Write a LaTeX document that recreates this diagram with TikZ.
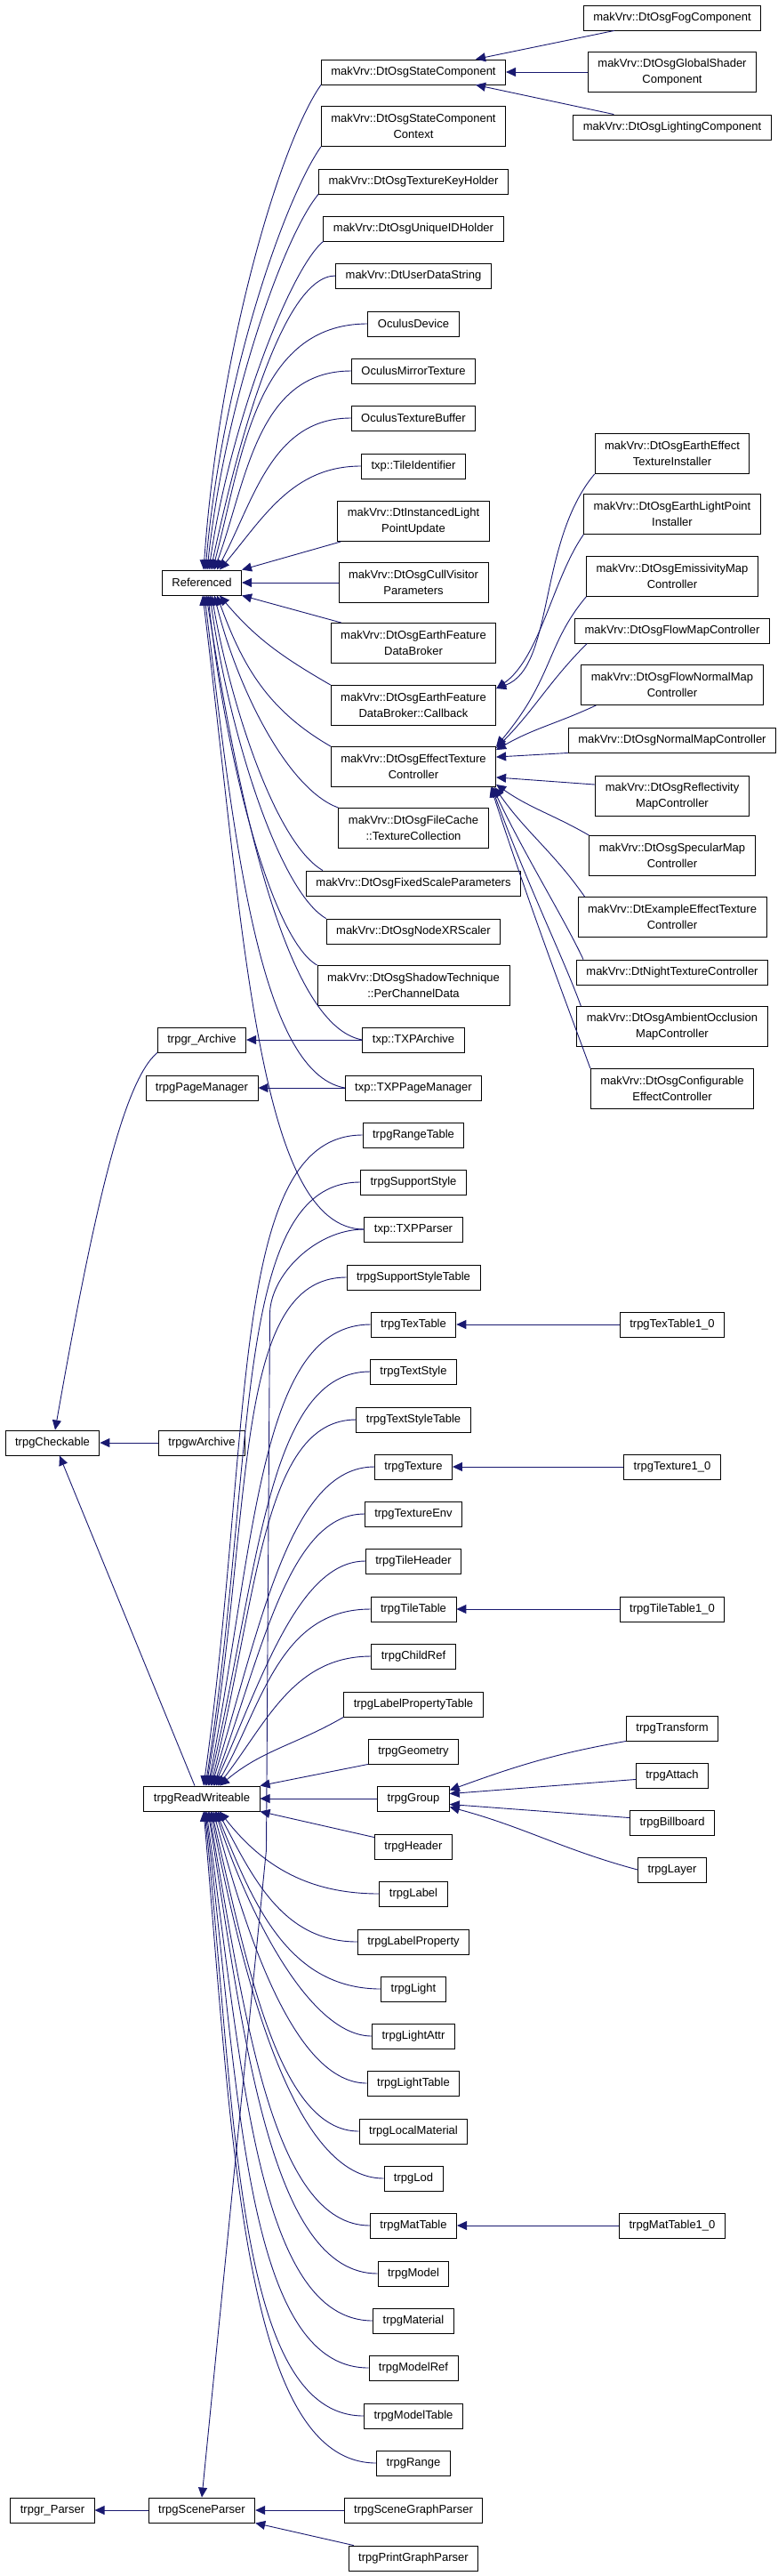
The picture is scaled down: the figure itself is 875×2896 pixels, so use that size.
\documentclass[tikz,border=0pt]{standalone}
\usepackage{fontspec}
\setmainfont{Liberation Sans}
\usetikzlibrary{arrows.meta}
\definecolor{midnight}{RGB}{25,25,112}

\begin{document}
\begin{tikzpicture}[x=1pt, y=1pt]
        \tikzstyle{every node}=[font=\fontsize{13}{17.5}\selectfont]
        \tikzstyle{cls}=[draw=black, line width=0.9pt, fill=white, inner xsep=11pt, inner ysep=3pt, minimum height=28pt]
        \tikzstyle{cls2}=[cls, align=center, minimum height=45pt]
        \tikzstyle{inh}=[draw=midnight, line width=0.9pt, -{Triangle[length=11pt,width=10pt]}]
        \useasboundingbox (0,0) rectangle (875,-2896);
        \node[cls] (fog) at (756,-20) {makVrv::DtOsgFogComponent};
        \node[cls2] (shader) at (756,-81) {makVrv::DtOsgGlobalShader\\Component};
        \node[cls] (lighting) at (756,-143) {makVrv::DtOsgLightingComponent};
        \node[cls] (statecomp) at (465,-81) {makVrv::DtOsgStateComponent};
        \node[cls2] (statectx) at (465,-142) {makVrv::DtOsgStateComponent\\Context};
        \node[cls] (keyholder) at (465,-204) {makVrv::DtOsgTextureKeyHolder};
        \node[cls] (uniqueid) at (465,-257) {makVrv::DtOsgUniqueIDHolder};
        \node[cls] (userdata) at (465,-310) {makVrv::DtUserDataString};
        \node[cls] (oculusdev) at (465,-364) {OculusDevice};
        \node[cls] (mirrortex) at (465,-417) {OculusMirrorTexture};
        \node[cls] (texbuffer) at (465,-470) {OculusTextureBuffer};
        \node[cls] (tileid) at (465,-524) {txp::TileIdentifier};
        \node[cls2] (instanced) at (465,-586) {makVrv::DtInstancedLight\\PointUpdate};
        \node[cls] (ref) at (227,-655) {Referenced};
        \node[cls2] (cullvis) at (465,-655) {makVrv::DtOsgCullVisitor\\Parameters};
        \node[cls2] (broker) at (465,-723) {makVrv::DtOsgEarthFeature\\DataBroker};
        \node[cls2] (callback) at (465,-793) {makVrv::DtOsgEarthFeature\\DataBroker::Callback};
        \node[cls2] (effecttex) at (465,-862) {makVrv::DtOsgEffectTexture\\Controller};
        \node[cls2] (filecache) at (465,-931) {makVrv::DtOsgFileCache\\::TextureCollection};
        \node[cls] (fixedscale) at (465,-993) {makVrv::DtOsgFixedScaleParameters};
        \node[cls] (xrscaler) at (465,-1047) {makVrv::DtOsgNodeXRScaler};
        \node[cls2] (shadow) at (465,-1108) {makVrv::DtOsgShadowTechnique\\::PerChannelData};
        \node[cls2] (texinstaller) at (756,-510) {makVrv::DtOsgEarthEffect\\TextureInstaller};
        \node[cls2] (lpinstaller) at (756,-578) {makVrv::DtOsgEarthLightPoint\\Installer};
        \node[cls2] (emissive) at (756,-648) {makVrv::DtOsgEmissivityMap\\Controller};
        \node[cls] (flowmap) at (756,-709) {makVrv::DtOsgFlowMapController};
        \node[cls2] (flownormal) at (756,-770) {makVrv::DtOsgFlowNormalMap\\Controller};
        \node[cls] (normalmap) at (756,-832) {makVrv::DtOsgNormalMapController};
        \node[cls2] (reflect) at (756,-895) {makVrv::DtOsgReflectivity\\MapController};
        \node[cls2] (specular) at (756,-962) {makVrv::DtOsgSpecularMap\\Controller};
        \node[cls2] (example) at (756,-1031) {makVrv::DtExampleEffectTexture\\Controller};
        \node[cls] (night) at (756,-1093) {makVrv::DtNightTextureController};
        \node[cls2] (ambient) at (756,-1154) {makVrv::DtOsgAmbientOcclusion\\MapController};
        \node[cls2] (configurable) at (756,-1224) {makVrv::DtOsgConfigurable\\EffectController};
        \node[cls] (rarchive) at (227,-1169) {trpgr\_Archive};
        \node[cls] (txparchive) at (465,-1169) {txp::TXPArchive};
        \node[cls] (pagemgr) at (227,-1223) {trpgPageManager};
        \node[cls] (txppagemgr) at (465,-1223) {txp::TXPPageManager};
        \node[cls] (rangetable) at (465,-1276) {trpgRangeTable};
        \node[cls] (supportstyle) at (465,-1329) {trpgSupportStyle};
        \node[cls] (txpparser) at (465,-1382) {txp::TXPParser};
        \node[cls] (supportstyletable) at (465,-1436) {trpgSupportStyleTable};
        \node[cls] (textable) at (465,-1489) {trpgTexTable};
        \node[cls] (textable10) at (756,-1489) {trpgTexTable1\_0};
        \node[cls] (textstyle) at (465,-1542) {trpgTextStyle};
        \node[cls] (textstyletable) at (465,-1596) {trpgTextStyleTable};
        \node[cls] (checkable) at (59,-1622) {trpgCheckable};
        \node[cls] (warchive) at (227,-1622) {trpgwArchive};
        \node[cls] (texture) at (465,-1649) {trpgTexture};
        \node[cls] (texture10) at (756,-1649) {trpgTexture1\_0};
        \node[cls] (textureenv) at (465,-1702) {trpgTextureEnv};
        \node[cls] (tileheader) at (465,-1755) {trpgTileHeader};
        \node[cls] (tiletable) at (465,-1809) {trpgTileTable};
        \node[cls] (tiletable10) at (756,-1809) {trpgTileTable1\_0};
        \node[cls] (childref) at (465,-1862) {trpgChildRef};
        \node[cls] (labelproptable) at (465,-1916) {trpgLabelPropertyTable};
        \node[cls] (transform) at (756,-1943) {trpgTransform};
        \node[cls] (geometry) at (465,-1969) {trpgGeometry};
        \node[cls] (attach) at (756,-1996) {trpgAttach};
        \node[cls] (readwrite) at (227,-2022) {trpgReadWriteable};
        \node[cls] (group) at (465,-2022) {trpgGroup};
        \node[cls] (billboard) at (756,-2049) {trpgBillboard};
        \node[cls] (header) at (465,-2076) {trpgHeader};
        \node[cls] (layer) at (756,-2102) {trpgLayer};
        \node[cls] (label) at (465,-2129) {trpgLabel};
        \node[cls] (labelprop) at (465,-2183) {trpgLabelProperty};
        \node[cls] (light) at (465,-2236) {trpgLight};
        \node[cls] (lightattr) at (465,-2289) {trpgLightAttr};
        \node[cls] (lighttable) at (465,-2342) {trpgLightTable};
        \node[cls] (localmat) at (465,-2396) {trpgLocalMaterial};
        \node[cls] (lod) at (465,-2449) {trpgLod};
        \node[cls] (mattable) at (465,-2502) {trpgMatTable};
        \node[cls] (mattable10) at (756,-2502) {trpgMatTable1\_0};
        \node[cls] (model) at (465,-2556) {trpgModel};
        \node[cls] (material) at (465,-2609) {trpgMaterial};
        \node[cls] (modelref) at (465,-2662) {trpgModelRef};
        \node[cls] (modeltable) at (465,-2716) {trpgModelTable};
        \node[cls] (range) at (465,-2769) {trpgRange};
        \node[cls] (rparser) at (59,-2822) {trpgr\_Parser};
        \node[cls] (sceneparser) at (227,-2822) {trpgSceneParser};
        \node[cls] (scenegraph) at (465,-2822) {trpgSceneGraphParser};
        \node[cls] (printgraph) at (465,-2876) {trpgPrintGraphParser};
        \draw[inh] ([xshift=35pt]fog.south west) -- ([xshift=-34pt]statecomp.north east);
        \draw[inh] (shader.west) -- (statecomp.east);
        \draw[inh] ([xshift=46pt]lighting.north west) -- ([xshift=-34pt]statecomp.south east);
        \draw[inh] (statecomp.south west) to[out=-125,in=86,out distance=80pt,in distance=250pt] ([xshift=2pt]ref.north);
        \draw[inh] (statectx.south west) to[out=-125,in=85,out distance=70pt,in distance=220pt] ([xshift=4pt]ref.north);
        \draw[inh] (keyholder.south west) to[out=-130,in=84,out distance=60pt,in distance=190pt] ([xshift=6pt]ref.north);
        \draw[inh] (uniqueid.south west) to[out=-140,in=82,out distance=50pt,in distance=160pt] ([xshift=8pt]ref.north);
        \draw[inh] (userdata.west) to[out=180,in=78,out distance=60pt,in distance=140pt] ([xshift=10pt]ref.north);
        \draw[inh] (oculusdev.west) to[out=180,in=75] ([xshift=12pt]ref.north);
        \draw[inh] (mirrortex.west) to[out=180,in=70] ([xshift=14pt]ref.north);
        \draw[inh] (texbuffer.west) to[out=180,in=62] ([xshift=17pt]ref.north);
        \draw[inh] (tileid.west) to[out=180,in=50] ([xshift=20pt]ref.north);
        \draw[inh] ([xshift=4pt]instanced.south west) -- (ref.north east);
        \draw[inh] (cullvis.west) -- (ref.east);
        \draw[inh] ([xshift=12pt]broker.north west) -- (ref.south east);
        \draw[inh] (callback.north west) to[out=150,in=-50] ([xshift=20pt]ref.south);
        \draw[inh] (effecttex.north west) to[out=150,in=-70] ([xshift=17pt]ref.south);
        \draw[inh] (filecache.north west) to[out=160,in=-76,out distance=60pt,in distance=110pt] ([xshift=14pt]ref.south);
        \draw[inh] ([xshift=19pt]fixedscale.north west) to[out=150,in=-80,out distance=60pt,in distance=130pt] ([xshift=11pt]ref.south);
        \draw[inh] (xrscaler.north west) to[out=150,in=-82,out distance=60pt,in distance=160pt] ([xshift=9pt]ref.south);
        \draw[inh] (shadow.north west) to[out=150,in=-84,out distance=60pt,in distance=180pt] ([xshift=7pt]ref.south);
        \draw[inh] (txparchive.west) to[out=170,in=-81,out distance=90pt,in distance=220pt] ([xshift=5pt]ref.south);
        \draw[inh] (txppagemgr.west) to[out=170,in=-83,out distance=100pt,in distance=260pt] ([xshift=3pt]ref.south);
        \draw[inh] (txpparser.west) to[out=180,in=-83,out distance=120pt,in distance=380pt] ([xshift=1pt]ref.south);
        \draw[inh] (texinstaller.south west) to[out=-130,in=20,out distance=100pt,in distance=70pt] ([yshift=-4pt]callback.north east);
        \draw[inh] (lpinstaller.south west) to[out=-125,in=35,out distance=60pt,in distance=60pt] ([yshift=-4pt]callback.north east);
        \draw[inh] (emissive.south west) to[out=-130,in=50,out distance=70pt,in distance=100pt] (effecttex.north east);
        \draw[inh] ([xshift=14pt]flowmap.south west) to[out=-135,in=45] ([yshift=-2pt]effecttex.north east);
        \draw[inh] ([xshift=17pt]flownormal.south west) to[out=-155,in=30] ([yshift=-4pt]effecttex.north east);
        \draw[inh] (normalmap.south west) -- ([yshift=-12pt]effecttex.north east);
        \draw[inh] ([yshift=-10pt]reflect.north west) -- ([yshift=11pt]effecttex.south east);
        \draw[inh] (specular.north west) to[out=150,in=-35] ([yshift=3pt]effecttex.south east);
        \draw[inh] ([xshift=8pt]example.north west) to[out=125,in=-55] ([xshift=-2pt]effecttex.south east);
        \draw[inh] ([xshift=8pt]night.north west) to[out=115,in=-65,out distance=50pt,in distance=80pt] ([xshift=-4pt]effecttex.south east);
        \draw[inh] ([xshift=5pt]ambient.north west) to[out=110,in=-70,out distance=60pt,in distance=120pt] ([xshift=-5pt]effecttex.south east);
        \draw[inh] (configurable.north west) to[out=110,in=-72,out distance=60pt,in distance=150pt] ([xshift=-6pt]effecttex.south east);
        \draw[inh] (txparchive.west) -- (rarchive.east);
        \draw[inh] (txppagemgr.west) -- (pagemgr.east);
        \draw[inh] (rarchive.south west) to[out=-140,in=80,out distance=50pt,in distance=250pt] ([xshift=3pt]checkable.north);
        \draw[inh] (warchive.west) -- (checkable.east);
        \draw[inh] ([xshift=-8pt]readwrite.north) -- ([xshift=8pt]checkable.south);
        \draw[inh] (txpparser.west) to[out=180,in=92,out distance=55pt,in distance=45pt] ++(-106,-98) -- ++(-4,-600) -- (sceneparser.north);
        \draw[inh] (textable10.west) -- (textable.east);
        \draw[inh] (texture10.west) -- (texture.east);
        \draw[inh] (tiletable10.west) -- (tiletable.east);
        \draw[inh] (mattable10.west) -- (mattable.east);
        \draw[inh] (rangetable.west) to[out=180,in=82,out distance=150pt,in distance=400pt] ([xshift=2pt]readwrite.north);
        \draw[inh] (supportstyle.west) to[out=180,in=81,out distance=145pt,in distance=370pt] ([xshift=4pt]readwrite.north);
        \draw[inh] (supportstyletable.west) to[out=180,in=80,out distance=130pt,in distance=310pt] ([xshift=5pt]readwrite.north);
        \draw[inh] (textable.west) to[out=180,in=79,out distance=125pt,in distance=280pt] ([xshift=7pt]readwrite.north);
        \draw[inh] (textstyle.west) to[out=180,in=77,out distance=115pt,in distance=250pt] ([xshift=8pt]readwrite.north);
        \draw[inh] (textstyletable.west) to[out=180,in=76,out distance=105pt,in distance=220pt] ([xshift=10pt]readwrite.north);
        \draw[inh] (texture.west) to[out=180,in=73,out distance=95pt,in distance=190pt] ([xshift=11pt]readwrite.north);
        \draw[inh] (textureenv.west) to[out=180,in=70,out distance=85pt,in distance=160pt] ([xshift=13pt]readwrite.north);
        \draw[inh] (tileheader.west) to[out=180,in=66,out distance=75pt,in distance=130pt] ([xshift=14pt]readwrite.north);
        \draw[inh] (tiletable.west) to[out=180,in=60] ([xshift=16pt]readwrite.north);
        \draw[inh] (childref.west) to[out=180,in=52] ([xshift=18pt]readwrite.north);
        \draw[inh] (labelproptable.south west) to[out=-150,in=40] ([xshift=20pt]readwrite.north);
        \draw[inh] (geometry.south west) -- (readwrite.north east);
        \draw[inh] (group.west) -- (readwrite.east);
        \draw[inh] ([yshift=-4pt]header.north west) -- (readwrite.south east);
        \draw[inh] (label.west) to[out=180,in=-52] ([xshift=20pt]readwrite.south);
        \draw[inh] (labelprop.west) to[out=180,in=-62] ([xshift=18pt]readwrite.south);
        \draw[inh] (light.west) to[out=180,in=-68] ([xshift=16pt]readwrite.south);
        \draw[inh] (lightattr.west) to[out=180,in=-72,out distance=70pt,in distance=120pt] ([xshift=15pt]readwrite.south);
        \draw[inh] (lighttable.west) to[out=180,in=-75,out distance=80pt,in distance=150pt] ([xshift=13pt]readwrite.south);
        \draw[inh] (localmat.west) to[out=180,in=-77,out distance=90pt,in distance=180pt] ([xshift=11pt]readwrite.south);
        \draw[inh] (lod.west) to[out=180,in=-79,out distance=100pt,in distance=200pt] ([xshift=10pt]readwrite.south);
        \draw[inh] (mattable.west) to[out=180,in=-80,out distance=110pt,in distance=230pt] ([xshift=8pt]readwrite.south);
        \draw[inh] (model.west) to[out=180,in=-81,out distance=120pt,in distance=260pt] ([xshift=7pt]readwrite.south);
        \draw[inh] (material.west) to[out=180,in=-82,out distance=130pt,in distance=290pt] ([xshift=5pt]readwrite.south);
        \draw[inh] (modelref.west) to[out=180,in=-83,out distance=140pt,in distance=310pt] ([xshift=4pt]readwrite.south);
        \draw[inh] (modeltable.west) to[out=180,in=-84,out distance=145pt,in distance=340pt] ([xshift=3pt]readwrite.south);
        \draw[inh] (range.west) to[out=180,in=-85,out distance=150pt,in distance=370pt] ([xshift=2pt]readwrite.south);
        \draw[inh] (transform.south west) to[out=190,in=20] ([yshift=-5pt]group.north east);
        \draw[inh] ([yshift=10pt]attach.south west) -- ([yshift=-9pt]group.north east);
        \draw[inh] ([yshift=-9pt]billboard.north west) -- ([yshift=8pt]group.south east);
        \draw[inh] (layer.west) to[out=165,in=-15] ([yshift=5pt]group.south east);
        \draw[inh] (sceneparser.west) -- (rparser.east);
        \draw[inh] (scenegraph.west) -- (sceneparser.east);
        \draw[inh] ([xshift=6pt]printgraph.north west) -- (sceneparser.south east);
\end{tikzpicture}
\end{document}
